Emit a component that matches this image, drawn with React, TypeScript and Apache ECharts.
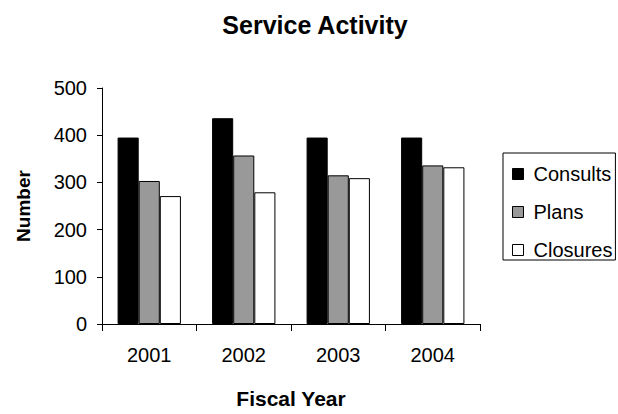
import React, { useEffect, useRef } from "react";
import * as echarts from "echarts";

const categories = ["2001", "2002", "2003", "2004"];
const consults = [395, 436, 395, 395];
const plans = [303, 357, 315, 336];
const closures = [271, 279, 309, 332];
const seriesNames = ["Consults", "Plans", "Closures"];

export default function App() {
  const ref = useRef<HTMLDivElement>(null);
  useEffect(() => {
    const chart = echarts.init(ref.current!, null, { renderer: "svg" });
    const font = "Liberation Sans, Arial, sans-serif";
    const colors = ["#000000", "#999999", "#ffffff"];
    const values = [consults, plans, closures];
    chart.setOption({
      animation: false,
      backgroundColor: "#ffffff",
      textStyle: { fontFamily: font },
      title: {
        text: "Service Activity",
        left: 310,
        textAlign: "center",
        top: 7,
        textStyle: { fontFamily: font, fontSize: 25, fontWeight: "bold", color: "#000" },
      },
      legend: {
        orient: "vertical",
        left: 503,
        top: 153,
        padding: [11, 3, 0, 9],
        borderColor: "#000",
        borderWidth: 1,
        itemWidth: 11,
        itemHeight: 11,
        itemGap: 18,
        icon: "rect",
        itemStyle: { borderColor: "#000", borderWidth: 1 },
        textStyle: { fontFamily: font, fontSize: 20, color: "#000", padding: [0, 0, 0, 5] },
        data: seriesNames,
      },
      grid: { left: 102, top: 88, width: 378, height: 242, containLabel: false },
      xAxis: {
        type: "category",
        data: categories,
        name: "Fiscal Year",
        nameLocation: "middle",
        nameGap: 64,
        nameTextStyle: { fontFamily: font, fontSize: 21, fontWeight: "bold", color: "#000" },
        axisLine: { lineStyle: { color: "#000", width: 1 } },
        axisTick: { show: true, length: 7, alignWithLabel: false, lineStyle: { color: "#000" } },
        axisLabel: { fontFamily: font, fontSize: 20, color: "#000", margin: 21 },
      },
      yAxis: {
        type: "value",
        min: 0,
        max: 500,
        interval: 100,
        name: "Number",
        nameLocation: "middle",
        nameGap: 69,
        nameRotate: 90,
        nameTextStyle: { fontFamily: font, fontSize: 19, fontWeight: "bold", color: "#000" },
        axisLine: { show: true, lineStyle: { color: "#000", width: 1 } },
        axisTick: { show: true, length: 5, lineStyle: { color: "#000" } },
        axisLabel: { fontFamily: font, fontSize: 20, color: "#000", margin: 15 },
        splitLine: { show: false },
      },
      series: seriesNames.map((name, i) => ({
        name,
        type: "bar",
        data: values[i],
        barGap: "0%",
        barCategoryGap: "33%",
        itemStyle: { color: colors[i], borderColor: "#000", borderWidth: 1 },
      })),
    });
    return () => chart.dispose();
  }, []);
  return <div ref={ref} style={{ width: 618, height: 414, position: "absolute", left: 0, top: 0 }} />;
}
